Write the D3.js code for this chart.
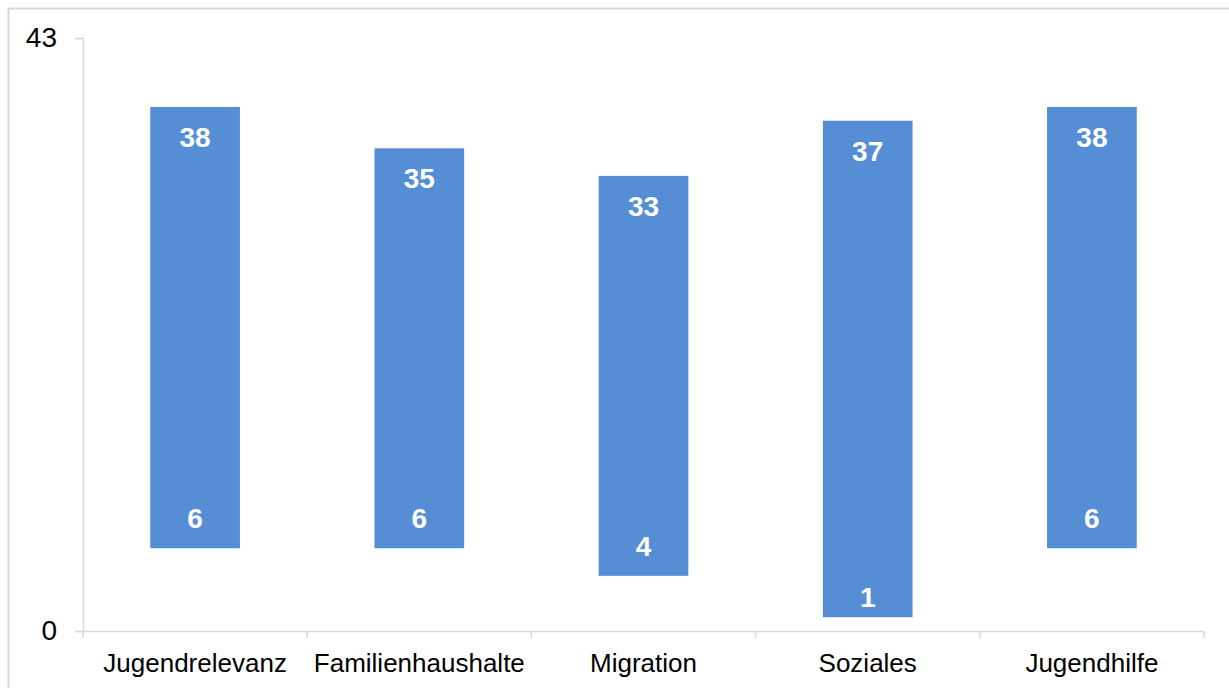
<!DOCTYPE html>
<html>
<head>
<meta charset="utf-8">
<script src="https://cdn.jsdelivr.net/npm/d3@7"></script>
<style>
  html, body { margin: 0; padding: 0; background: #fff; }
  svg { display: block; font-family: Arial, "Liberation Sans", sans-serif; }
</style>
</head>
<body>
<svg id="chart" width="1229" height="688"></svg>
<script>
const categories = ["Jugendrelevanz", "Familienhaushalte", "Migration", "Soziales", "Jugendhilfe"];
const lowValues = [6, 6, 4, 1, 6];
const highValues = [38, 35, 33, 37, 38];
const yTicks = [0, 43];

(function () {
const data = categories.map((c, i) => ({ cat: c, low: lowValues[i], high: highValues[i] }));

const svg = d3.select("#chart");
const W = 1229, H = 688;
const mLeft = 83, mRight = 1204, mTop = 38, mBottom = 631;
const axisColor = "#d9d9d9";

// outer border
svg.append("rect")
  .attr("x", 8.5).attr("y", 8.5)
  .attr("width", W + 20).attr("height", H + 20)
  .attr("fill", "none").attr("stroke", axisColor).attr("stroke-width", 2);

const x = d3.scaleBand().domain(categories).range([mLeft, mRight]).paddingInner(0).paddingOuter(0);
const y = d3.scaleLinear().domain([0, 43]).range([mBottom, mTop]);

const barW = x.bandwidth() * 0.40;

// bars
svg.append("g").selectAll("rect").data(data).join("rect")
  .attr("x", d => x(d.cat) + x.bandwidth() / 2 - barW / 2)
  .attr("y", d => y(d.high))
  .attr("width", barW)
  .attr("height", d => y(d.low) - y(d.high))
  .attr("fill", "#558ED5");

// y axis
const yAxis = d3.axisLeft(y).tickValues(yTicks).tickSize(8).tickPadding(18).tickFormat(d3.format("d"));
const gy = svg.append("g").attr("transform", `translate(${mLeft},0)`).call(yAxis);
gy.select(".domain").attr("stroke", axisColor).attr("stroke-width", 1.5);
gy.selectAll(".tick line").attr("stroke", axisColor).attr("stroke-width", 1.5);
gy.selectAll(".tick text").attr("font-size", 28).attr("fill", "#000")
  .attr("font-family", "Arial, 'Liberation Sans', sans-serif");

// x axis
const xAxis = d3.axisBottom(x).tickSize(0).tickPadding(0);
const gx = svg.append("g").attr("transform", `translate(0,${mBottom})`).call(xAxis);
gx.select(".domain").attr("stroke", axisColor).attr("stroke-width", 1.5);
gx.selectAll(".tick text").attr("font-size", 26).attr("fill", "#000")
  .attr("font-family", "Arial, 'Liberation Sans', sans-serif")
  .attr("dy", null).attr("y", 41);
// boundary tick marks
const boundaries = categories.map(c => x(c)).concat([x.range()[1]]);
gx.append("g").selectAll("line").data(boundaries).join("line")
  .attr("x1", d => d).attr("x2", d => d)
  .attr("y1", 0).attr("y2", 7)
  .attr("stroke", axisColor).attr("stroke-width", 1.5);

// value labels
const lbl = svg.append("g").attr("font-weight", "bold").attr("font-size", 28)
  .attr("fill", "#fff").attr("text-anchor", "middle");
lbl.selectAll("text.hi").data(data).join("text").attr("class", "hi")
  .attr("x", d => x(d.cat) + x.bandwidth() / 2)
  .attr("y", d => y(d.high) + 40)
  .text(d => d.high);
lbl.selectAll("text.lo").data(data).join("text").attr("class", "lo")
  .attr("x", d => x(d.cat) + x.bandwidth() / 2)
  .attr("y", d => y(d.low) - ((y(0) - y(d.low)) < 20 ? 10 : 20))
  .text(d => d.low);
})();
</script>
</body>
</html>
